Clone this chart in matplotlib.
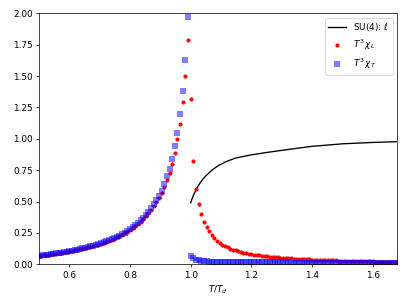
import matplotlib
matplotlib.use('Agg')
import matplotlib.pyplot as plt
import numpy as np

# Paso de la malla en T/Td
paso = 0.0087

# Datos por debajo de Td (de T/Td = 1 - paso hacia abajo)
chi_T_abajo = [1.97, 1.63, 1.38, 1.20, 1.05, 0.94, 0.84, 0.76, 0.70, 0.64,
               0.585, 0.545, 0.51, 0.479, 0.447, 0.42, 0.395, 0.372, 0.35, 0.33,
               0.312, 0.295, 0.28, 0.266, 0.252, 0.24, 0.229, 0.218, 0.208, 0.199,
               0.19, 0.182, 0.174, 0.167, 0.16, 0.154, 0.148, 0.142, 0.136, 0.131,
               0.126, 0.121, 0.117, 0.112, 0.108, 0.104, 0.1, 0.097, 0.093, 0.09,
               0.087, 0.084, 0.081, 0.078, 0.075, 0.073, 0.07, 0.068, 0.066, 0.064]
chi_L_abajo = [1.79, 1.50, 1.29, 1.12, 1.0, 0.886, 0.80, 0.73, 0.67, 0.615,
               0.565, 0.527, 0.494, 0.464, 0.434, 0.408, 0.384, 0.362, 0.341, 0.322,
               0.305, 0.288, 0.274, 0.26, 0.247, 0.235, 0.224, 0.214, 0.204, 0.195,
               0.186, 0.179, 0.171, 0.164, 0.157, 0.151, 0.146, 0.14, 0.134, 0.129,
               0.124, 0.119, 0.115, 0.11, 0.106, 0.102, 0.098, 0.095, 0.092, 0.089,
               0.086, 0.083, 0.08, 0.077, 0.074, 0.072, 0.069, 0.067, 0.065, 0.063]

# Datos por encima de Td (desde T/Td = 1 hacia arriba)
chi_L_arriba = [1.32, 0.82, 0.60, 0.48, 0.40, 0.34, 0.298, 0.262, 0.232, 0.207,
                0.187, 0.171, 0.157, 0.145, 0.134, 0.125, 0.117, 0.110, 0.104, 0.098,
                0.093, 0.089, 0.085, 0.081, 0.078, 0.075, 0.072, 0.069, 0.067, 0.064,
                0.062, 0.060, 0.058, 0.056, 0.054, 0.052, 0.051, 0.049, 0.048, 0.046,
                0.045, 0.044, 0.043, 0.041, 0.040, 0.039, 0.038, 0.037, 0.036, 0.035,
                0.034, 0.034, 0.033, 0.032, 0.031, 0.031, 0.030, 0.029, 0.029, 0.028,
                0.027, 0.027, 0.026, 0.026, 0.025, 0.025, 0.024, 0.024, 0.023, 0.023,
                0.022, 0.022, 0.021, 0.021, 0.020, 0.020, 0.020, 0.019, 0.019]
chi_T_arriba = [0.066, 0.048, 0.038, 0.032, 0.028, 0.025, 0.023, 0.021, 0.020, 0.019,
                0.018, 0.018, 0.018, 0.018, 0.018, 0.018, 0.017, 0.017, 0.017, 0.017,
                0.017, 0.017, 0.017, 0.016, 0.016, 0.016, 0.016, 0.016, 0.016, 0.016,
                0.015, 0.015, 0.015, 0.015, 0.015, 0.015, 0.015, 0.015, 0.014, 0.014,
                0.014, 0.014, 0.014, 0.014, 0.014, 0.014, 0.014, 0.013, 0.013, 0.013,
                0.013, 0.013, 0.013, 0.013, 0.013, 0.013, 0.013, 0.012, 0.012, 0.012,
                0.012, 0.012, 0.012, 0.012, 0.012, 0.012, 0.012, 0.012, 0.012, 0.012,
                0.012, 0.012, 0.012, 0.012, 0.012, 0.012, 0.012, 0.012, 0.012]

# Lazo de Polyakov SU(4)
T_lazo = [1.0, 1.005, 1.01, 1.02, 1.03, 1.04, 1.05, 1.07, 1.09, 1.12,
          1.15, 1.2, 1.25, 1.3, 1.4, 1.5, 1.6, 1.68]
lazo = [0.49, 0.525, 0.555, 0.605, 0.645, 0.678, 0.705, 0.75, 0.785, 0.822,
        0.848, 0.872, 0.891, 0.908, 0.94, 0.96, 0.971, 0.977]

# Malla de temperaturas
T_abajo = 1.0 - paso * np.arange(1, len(chi_T_abajo) + 1)
T_arriba = 1.0 + paso * np.arange(len(chi_L_arriba))
T = np.concatenate([T_abajo[::-1], T_arriba])
chi_L = np.concatenate([chi_L_abajo[::-1], chi_L_arriba])
chi_T = np.concatenate([chi_T_abajo[::-1], chi_T_arriba])

fig = plt.figure(figsize=(407 / 64, 305 / 64), dpi=64)
ax = fig.add_axes([39 / 407, 1 - 264.3 / 305, 358 / 407, 251 / 305])

ax.plot(T_lazo, lazo, 'k-', label=r'SU(4): $\ell$')
ax.plot(T, chi_L, 'o', color='r', markersize=3.6, label=r'$T^3\,\chi_L$')
ax.plot(T, chi_T, 's', color='b', alpha=0.5, markersize=7, markeredgewidth=0,
        label=r'$T^3\,\chi_T$')

ax.set_xlim(0.5, 1.68)
ax.set_ylim(0, 2)
ax.set_yticks(np.arange(0, 2.01, 0.25))
ax.set_xlabel(r'$T/T_d$')
ax.legend(loc='upper right')

fig.savefig('out.png', dpi=64)
